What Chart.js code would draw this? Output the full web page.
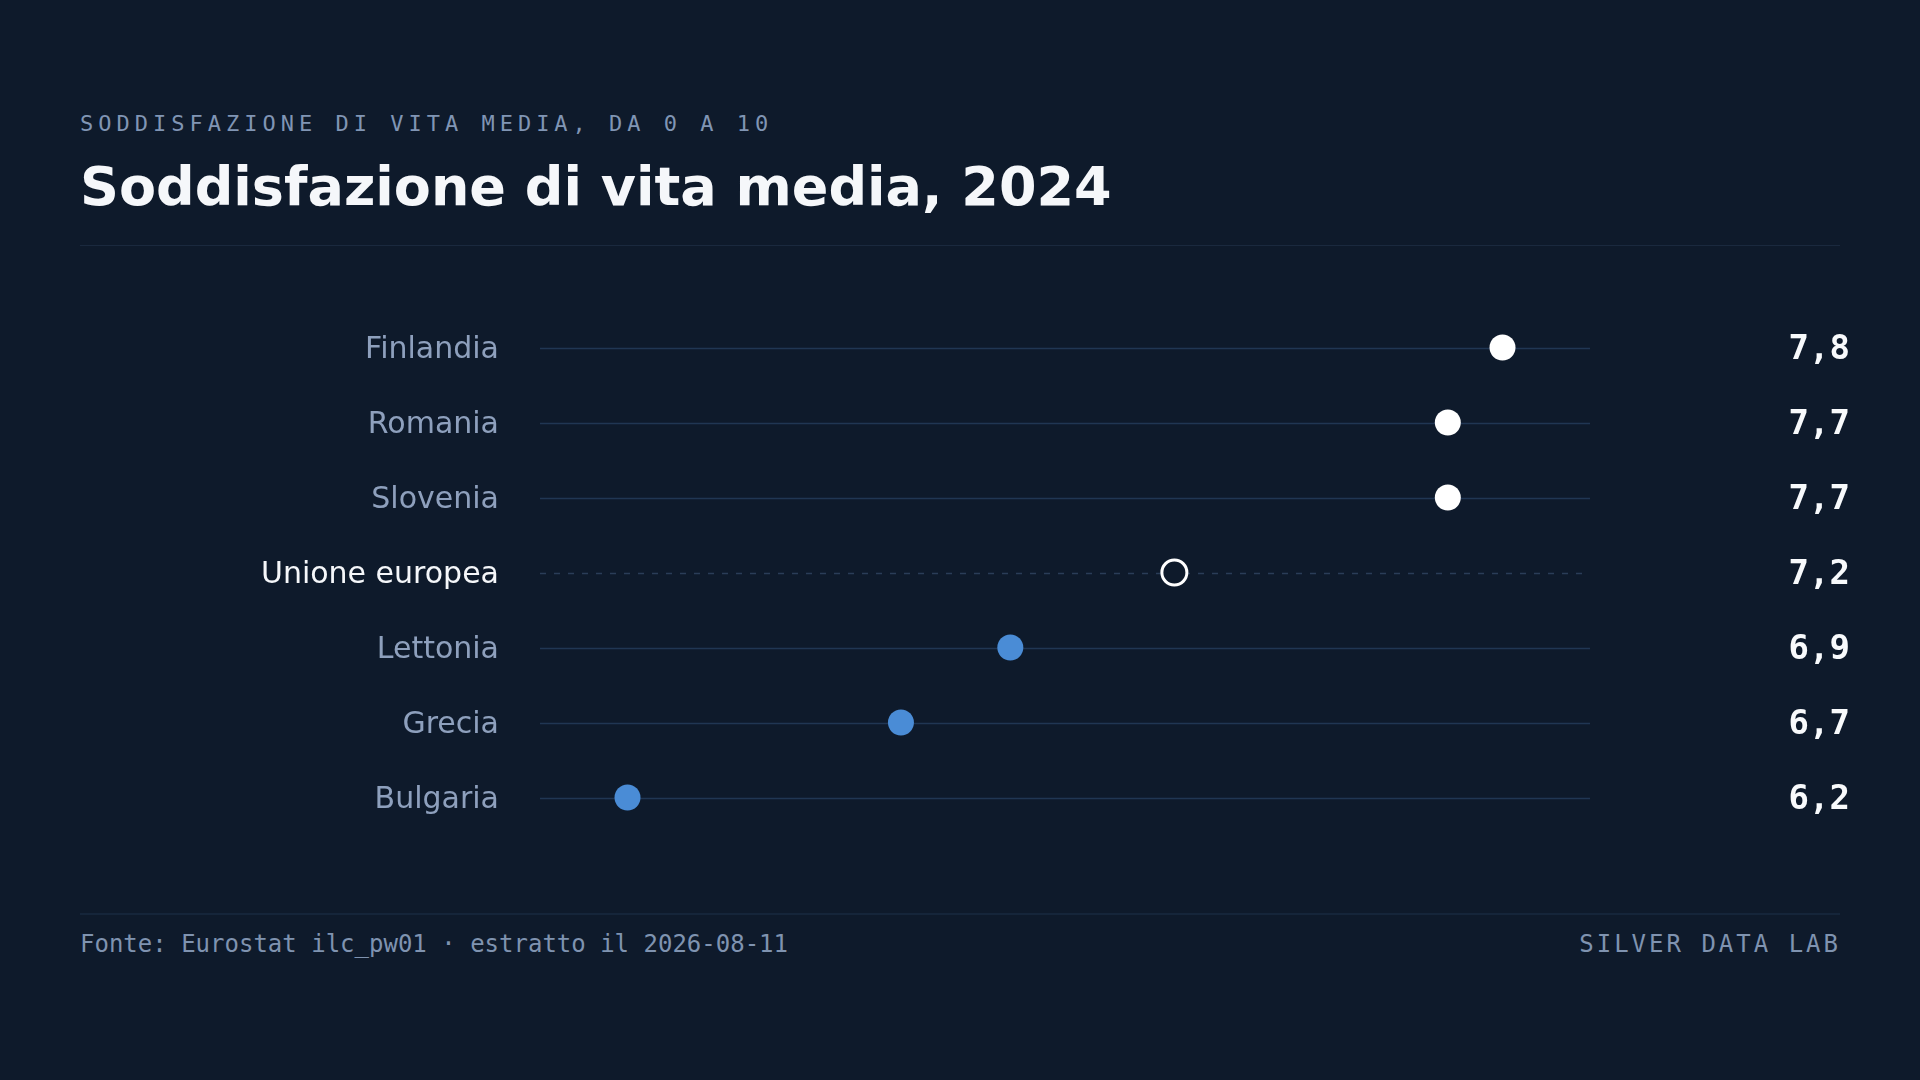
<!DOCTYPE html>
<html><head><meta charset="utf-8">
<script src="https://cdn.jsdelivr.net/npm/chart.js@4.4.1/dist/chart.umd.min.js"></script>
<style>
html,body{margin:0;padding:0;background:#0e1a2b;}
#page{position:relative;width:1920px;height:1080px;background:#0e1a2b;overflow:hidden;}
.sub{position:absolute;left:80px;top:113px;font:22px/22px 'DejaVu Sans Mono';letter-spacing:5px;color:#8095b4;white-space:nowrap;}
.title{position:absolute;left:80px;top:160px;font:bold 54px/54px 'DejaVu Sans';color:#f5f7fa;white-space:nowrap;}
.rule{position:absolute;left:80px;width:1760px;}
.foot{position:absolute;top:932px;font:24px/24px 'DejaVu Sans Mono';color:#7f93b0;white-space:nowrap;}
#wrap{position:absolute;left:80px;top:310px;width:1770px;height:525px;}
</style></head>
<body><div id="page">
<div class="sub">SODDISFAZIONE DI VITA MEDIA, DA 0 A 10</div>
<div class="title">Soddisfazione di vita media, 2024</div>
<div class="rule" style="top:245px;height:1px;background:#1a293e;"></div>
<div id="wrap"><canvas id="c"></canvas></div>
<div class="rule" style="top:913px;height:2px;background:#15253a;"></div>
<div class="foot" style="left:80px;">Fonte: Eurostat ilc_pw01 · estratto il 2026-08-11</div>
<div class="foot" style="right:79px;letter-spacing:3px;">SILVER DATA LAB</div>
</div>
<script>
const categories = ['Finlandia','Romania','Slovenia','Unione europea','Lettonia','Grecia','Bulgaria'];
const values = [7.8, 7.7, 7.7, 7.2, 6.9, 6.7, 6.2];
const referenceCategory = 'Unione europea';
const axisMin = 6.04;
const axisMax = 7.96;

const refIdx = categories.indexOf(referenceCategory);
const refValue = values[refIdx];
const valueLabels = values.map(v => v.toFixed(1).replace('.', ','));

const BG = '#0e1a2b';
const pointFill = (i) => i === refIdx ? BG : (values[i] > refValue ? '#ffffff' : '#4a8cd6');

const rowLines = {
  id: 'rowLines',
  beforeDatasetsDraw(chart) {
    const {ctx, chartArea: {left, right}, scales: {y}} = chart;
    categories.forEach((c, i) => {
      const py = Math.round(y.getPixelForValue(i)) + 0.5;
      ctx.save();
      ctx.beginPath();
      if (i === refIdx) { ctx.setLineDash([6, 8]); ctx.strokeStyle = '#2a3d58'; }
      else { ctx.strokeStyle = '#203653'; }
      ctx.lineWidth = 1.5;
      ctx.moveTo(left, py);
      ctx.lineTo(right, py);
      ctx.stroke();
      ctx.restore();
    });
  }
};

function fixAxis(width) {
  return s => { s.width = width; s.paddingTop = 0; s.paddingBottom = 0; };
}

new Chart(document.getElementById('c'), {
  type: 'line',
  data: {
    labels: categories,
    datasets: [{
      data: values,
      showLine: false,
      pointRadius: c => c.dataIndex === refIdx ? 12.5 : 13,
      pointHoverRadius: c => c.dataIndex === refIdx ? 12.5 : 13,
      pointBackgroundColor: c => pointFill(c.dataIndex),
      pointBorderColor: c => c.dataIndex === refIdx ? '#ffffff' : pointFill(c.dataIndex),
      pointBorderWidth: c => c.dataIndex === refIdx ? 3 : 0,
      clip: false
    }]
  },
  options: {
    indexAxis: 'y',
    responsive: true,
    maintainAspectRatio: false,
    animation: false,
    events: [],
    layout: {padding: 0, autoPadding: false},
    plugins: {legend: {display: false}, tooltip: {enabled: false}},
    scales: {
      x: {type: 'linear', min: axisMin, max: axisMax, display: false},
      y: {
        type: 'category', position: 'left', offset: true,
        grid: {display: false, drawTicks: false}, border: {display: false},
        ticks: {
          padding: 41, autoSkip: false, labelOffset: 3,
          color: c => c.index === refIdx ? '#f5f7fa' : '#8ea0bd',
          font: {family: 'DejaVu Sans', size: 30}
        },
        afterFit: fixAxis(460)
      },
      y2: {
        type: 'category', labels: valueLabels, position: 'right', offset: true,
        grid: {display: false, drawTicks: false}, border: {display: false},
        ticks: {
          padding: 0, autoSkip: false, crossAlign: 'far', labelOffset: 3,
          color: '#f8fafc',
          font: {family: 'DejaVu Sans Mono', size: 34, weight: 'bold'}
        },
        afterFit: fixAxis(260)
      }
    }
  },
  plugins: [rowLines]
});
</script>
</body></html>
